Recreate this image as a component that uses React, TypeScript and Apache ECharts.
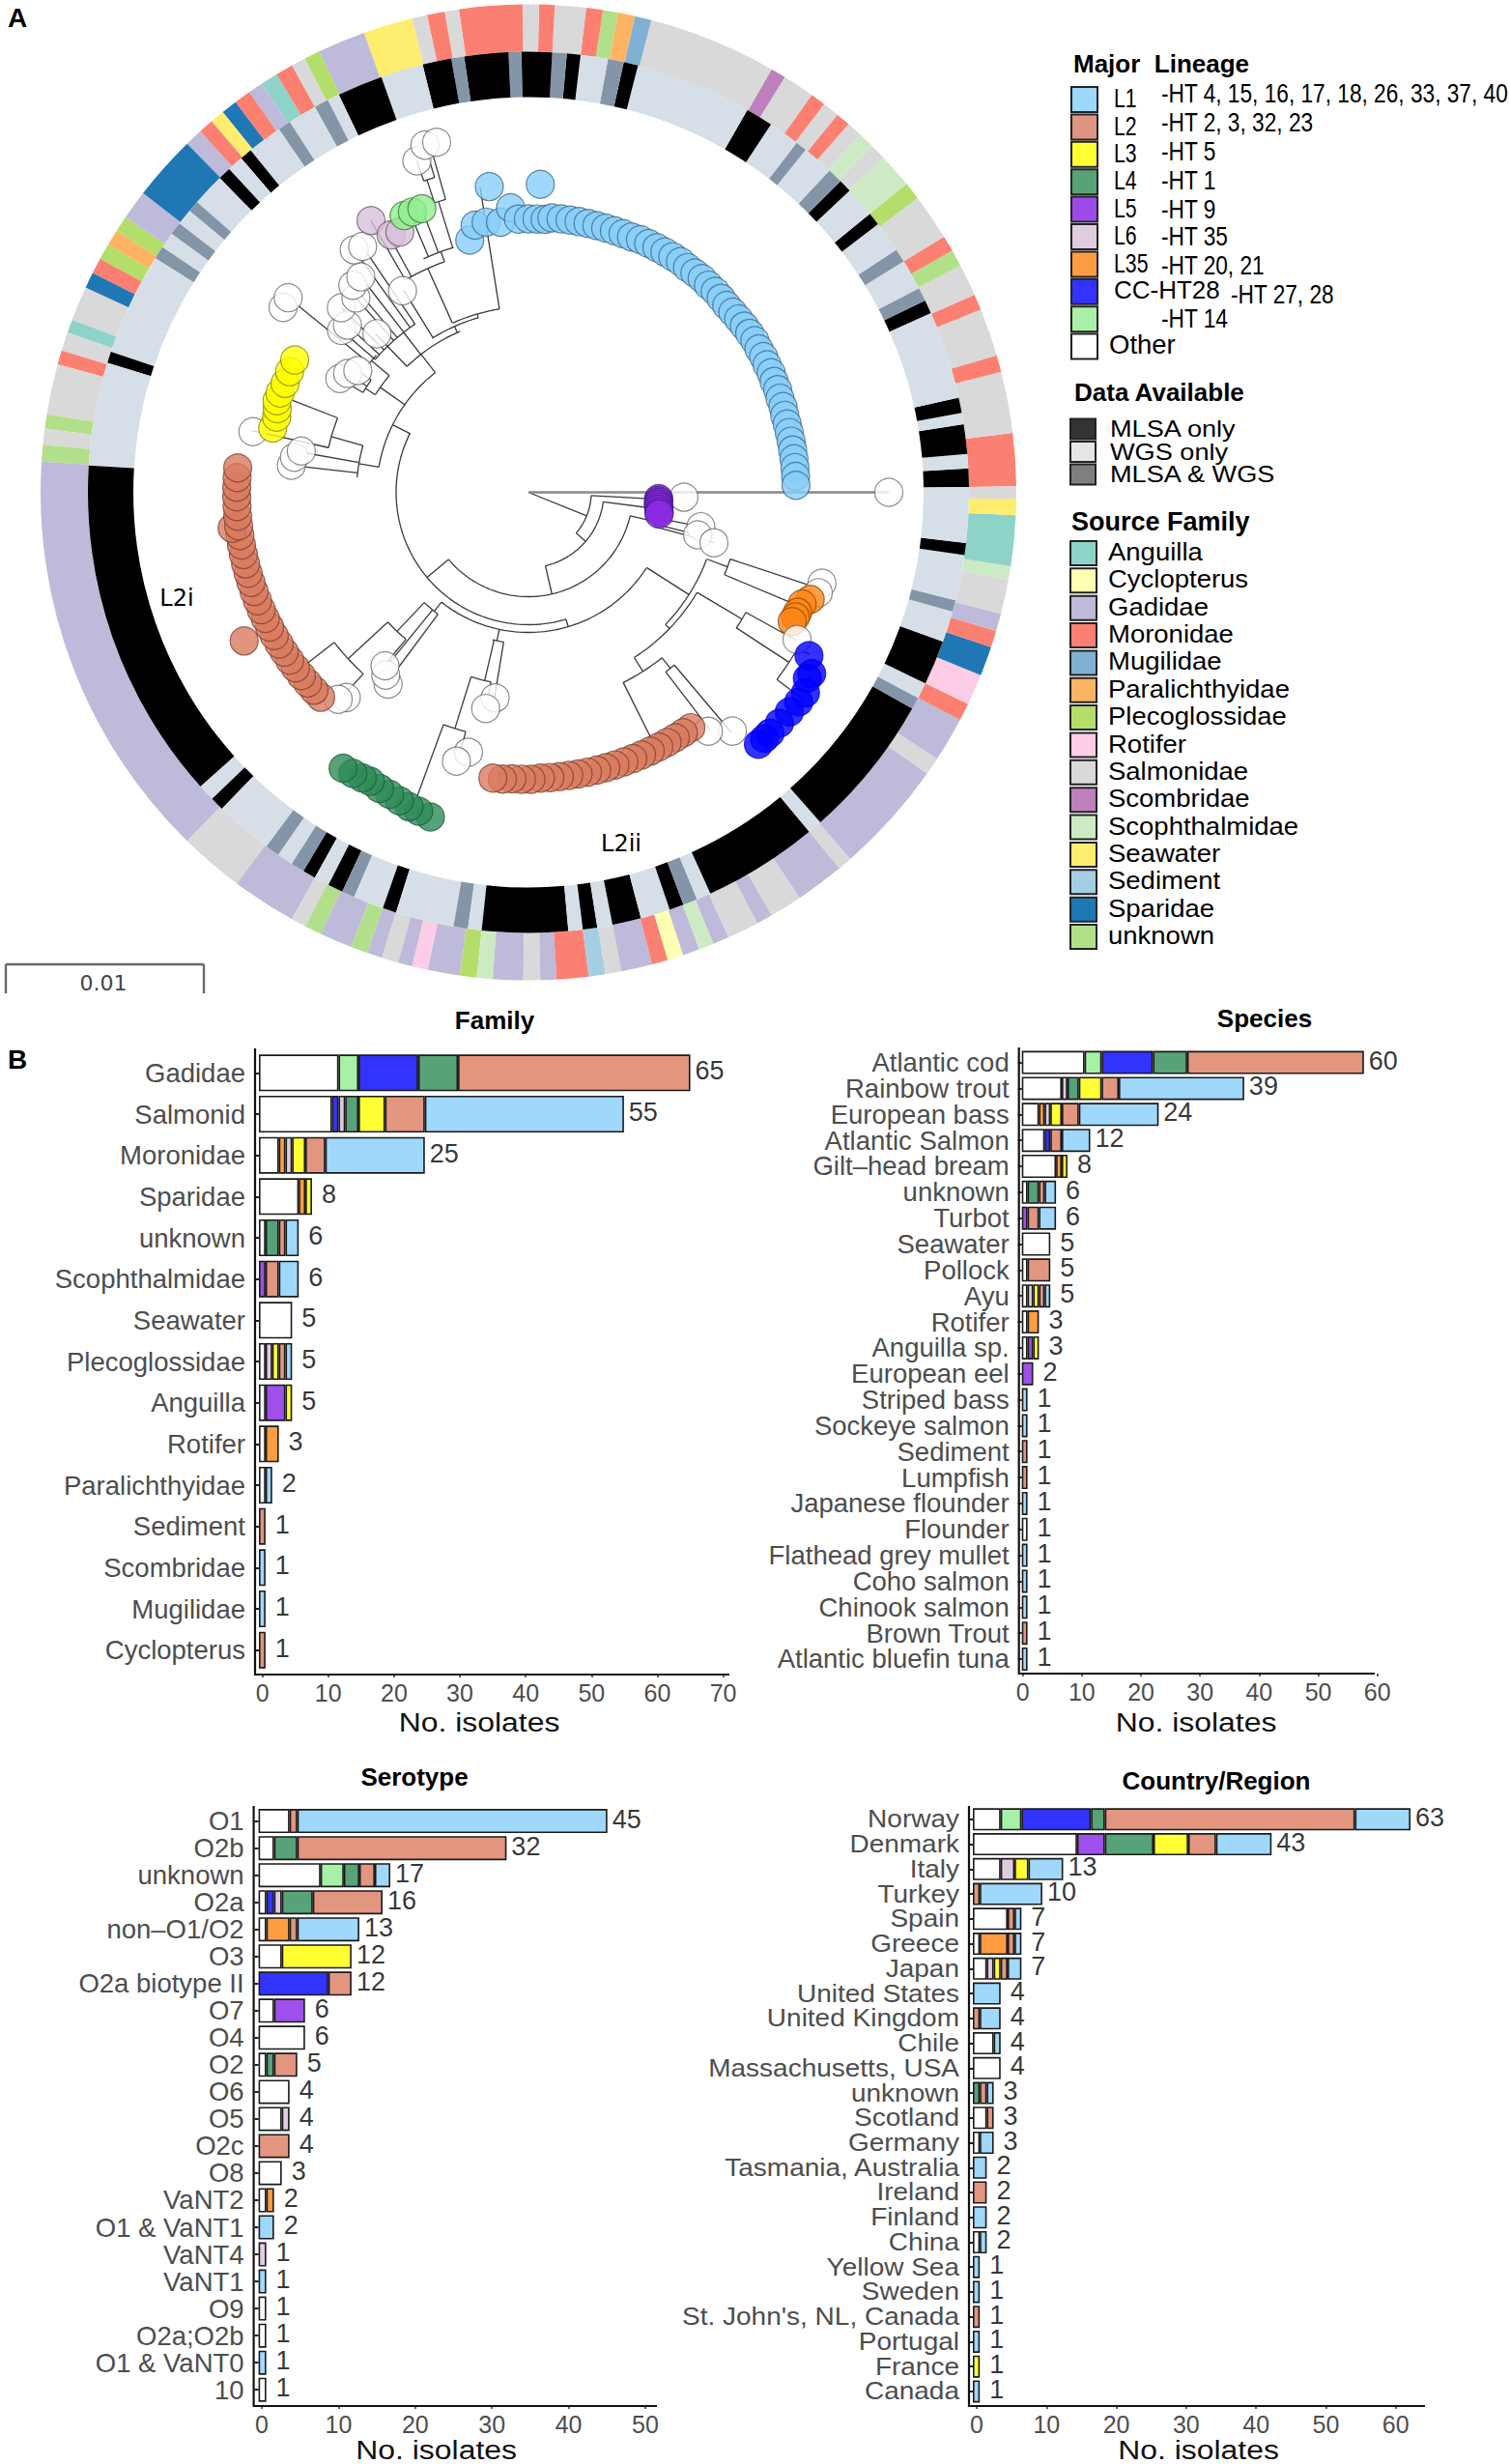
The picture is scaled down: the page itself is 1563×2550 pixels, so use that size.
import React, { useEffect, useRef } from "react";
import * as echarts from "echarts";

// ---------- lineages (stack order) ----------
const lineageNames = ["Other", "HT14", "CC-HT28", "L35", "L6", "L5", "L4", "L3", "L2", "L1"];
const barColors = ["#ffffff", "#a6f1a6", "#3333ff", "#ff9c42", "#e0cce0", "#9f50ea", "#58a279", "#ffff33", "#e29680", "#a0d8fc"];
const tipColors: Record<string, string> = {
  Other: "#ffffff", HT14: "#90ee90", CC: "#0000ff", L35: "#ff8515", L6: "#d8bfd8",
  L5: "#8a2be2", L4: "#2e8b57", L3: "#ffff00", L2: "#d97a5f", L1: "#87cefa",
};
const tipBorders: Record<string, string> = {
  Other: "#6e6e6e", HT14: "#3d7a3d", CC: "#0000e0", L35: "#8a4a00", L6: "#6e5a6e",
  L5: "#4b1a8a", L4: "#1b5e38", L3: "#8a8a00", L2: "#7a4030", L1: "#3d6a8a",
};

// ---------- bar panels: rows are [Other, HT14, CC-HT28, L35, L6, L5, L4, L3, L2, L1] ----------
const familyCategories = ["Gadidae", "Salmonid", "Moronidae", "Sparidae", "unknown", "Scophthalmidae", "Seawater", "Plecoglossidae", "Anguilla", "Rotifer", "Paralichthyidae", "Sediment", "Scombridae", "Mugilidae", "Cyclopterus"];
const familyRows = [
  [12, 3, 9, 0, 0, 0, 6, 0, 35, 0],
  [11, 0, 1, 0, 1, 0, 2, 4, 6, 30],
  [3, 0, 0, 1, 1, 0, 0, 2, 3, 15],
  [6, 0, 0, 1, 0, 0, 0, 1, 0, 0],
  [1, 0, 0, 0, 0, 0, 2, 0, 1, 2],
  [0, 0, 0, 0, 0, 1, 0, 0, 2, 3],
  [5, 0, 0, 0, 0, 0, 0, 0, 0, 0],
  [1, 0, 0, 0, 1, 0, 0, 1, 1, 1],
  [1, 0, 0, 0, 0, 3, 0, 1, 0, 0],
  [1, 0, 0, 2, 0, 0, 0, 0, 0, 0],
  [1, 0, 0, 0, 0, 0, 0, 0, 0, 1],
  [0, 0, 0, 0, 0, 0, 0, 0, 1, 0],
  [0, 0, 0, 0, 0, 0, 0, 0, 0, 1],
  [0, 0, 0, 0, 0, 0, 0, 0, 0, 1],
  [0, 0, 0, 0, 0, 0, 0, 0, 1, 0],
];
const speciesCategories = ["Atlantic cod", "Rainbow trout", "European bass", "Atlantic Salmon", "Gilt–head bream", "unknown", "Turbot", "Seawater", "Pollock", "Ayu", "Rotifer", "Anguilla sp.", "European eel", "Striped bass", "Sockeye salmon", "Sediment", "Lumpfish", "Japanese flounder", "Flounder", "Flathead grey mullet", "Coho salmon", "Chinook salmon", "Brown Trout", "Atlantic bluefin tuna"];
const speciesRows = [
  [11, 3, 9, 0, 0, 0, 6, 0, 31, 0],
  [7, 0, 0, 0, 1, 0, 2, 4, 3, 22],
  [3, 0, 0, 1, 1, 0, 0, 2, 3, 14],
  [4, 0, 1, 0, 0, 0, 0, 0, 2, 5],
  [6, 0, 0, 1, 0, 0, 0, 1, 0, 0],
  [1, 0, 0, 0, 0, 0, 2, 0, 1, 2],
  [0, 0, 0, 0, 0, 1, 0, 0, 2, 3],
  [5, 0, 0, 0, 0, 0, 0, 0, 0, 0],
  [1, 0, 0, 0, 0, 0, 0, 0, 4, 0],
  [1, 0, 0, 0, 1, 0, 0, 1, 1, 1],
  [1, 0, 0, 2, 0, 0, 0, 0, 0, 0],
  [1, 0, 0, 0, 0, 1, 0, 1, 0, 0],
  [0, 0, 0, 0, 0, 2, 0, 0, 0, 0],
  [0, 0, 0, 0, 0, 0, 0, 0, 0, 1],
  [0, 0, 0, 0, 0, 0, 0, 0, 0, 1],
  [0, 0, 0, 0, 0, 0, 0, 0, 1, 0],
  [0, 0, 0, 0, 0, 0, 0, 0, 1, 0],
  [0, 0, 0, 0, 0, 0, 0, 0, 0, 1],
  [1, 0, 0, 0, 0, 0, 0, 0, 0, 0],
  [0, 0, 0, 0, 0, 0, 0, 0, 0, 1],
  [0, 0, 0, 0, 0, 0, 0, 0, 0, 1],
  [0, 0, 0, 0, 0, 0, 0, 0, 0, 1],
  [0, 0, 0, 0, 0, 0, 0, 0, 1, 0],
  [0, 0, 0, 0, 0, 0, 0, 0, 0, 1],
];
const serotypeCategories = ["O1", "O2b", "unknown", "O2a", "non–O1/O2", "O3", "O2a biotype II", "O7", "O4", "O2", "O6", "O5", "O2c", "O8", "VaNT2", "O1 & VaNT1", "VaNT4", "VaNT1", "O9", "O2a;O2b", "O1 & VaNT0", "10"];
const serotypeRows = [
  [4, 0, 0, 0, 0, 0, 0, 0, 1, 40],
  [2, 0, 0, 0, 0, 0, 3, 0, 27, 0],
  [8, 3, 0, 0, 0, 0, 2, 0, 2, 2],
  [1, 0, 1, 0, 1, 0, 4, 0, 9, 0],
  [1, 0, 0, 3, 0, 0, 0, 0, 1, 8],
  [3, 0, 0, 0, 0, 0, 0, 9, 0, 0],
  [0, 0, 9, 0, 0, 0, 0, 0, 3, 0],
  [2, 0, 0, 0, 0, 4, 0, 0, 0, 0],
  [6, 0, 0, 0, 0, 0, 0, 0, 0, 0],
  [1, 0, 0, 0, 0, 0, 1, 0, 3, 0],
  [4, 0, 0, 0, 0, 0, 0, 0, 0, 0],
  [3, 0, 0, 0, 1, 0, 0, 0, 0, 0],
  [0, 0, 0, 0, 0, 0, 0, 0, 4, 0],
  [3, 0, 0, 0, 0, 0, 0, 0, 0, 0],
  [1, 0, 0, 1, 0, 0, 0, 0, 0, 0],
  [0, 0, 0, 0, 0, 0, 0, 0, 0, 2],
  [0, 0, 0, 0, 1, 0, 0, 0, 0, 0],
  [0, 0, 0, 0, 0, 0, 0, 0, 0, 1],
  [1, 0, 0, 0, 0, 0, 0, 0, 0, 0],
  [1, 0, 0, 0, 0, 0, 0, 0, 0, 0],
  [0, 0, 0, 0, 0, 0, 0, 0, 0, 1],
  [1, 0, 0, 0, 0, 0, 0, 0, 0, 0],
];
const countryCategories = ["Norway", "Denmark", "Italy", "Turkey", "Spain", "Greece", "Japan", "United States", "United Kingdom", "Chile", "Massachusetts, USA", "unknown", "Scotland", "Germany", "Tasmania, Australia", "Ireland", "Finland", "China", "Yellow Sea", "Sweden", "St. John's, NL, Canada", "Portugal", "France", "Canada"];
const countryRows = [
  [4, 3, 10, 0, 0, 0, 2, 0, 36, 8],
  [15, 0, 0, 0, 0, 4, 7, 5, 4, 8],
  [4, 0, 0, 0, 2, 0, 0, 2, 0, 5],
  [0, 0, 0, 0, 0, 0, 0, 0, 1, 9],
  [5, 0, 0, 0, 0, 0, 0, 0, 1, 1],
  [1, 0, 0, 4, 0, 0, 0, 0, 1, 1],
  [2, 0, 0, 0, 1, 0, 0, 1, 1, 2],
  [0, 0, 0, 0, 0, 0, 0, 0, 0, 4],
  [0, 0, 0, 0, 0, 0, 0, 0, 1, 3],
  [3, 0, 0, 0, 0, 0, 0, 0, 0, 1],
  [4, 0, 0, 0, 0, 0, 0, 0, 0, 0],
  [0, 0, 0, 0, 0, 0, 1, 0, 1, 1],
  [2, 0, 0, 0, 0, 0, 0, 0, 1, 0],
  [1, 0, 0, 0, 0, 0, 0, 0, 0, 2],
  [0, 0, 0, 0, 0, 0, 0, 0, 0, 2],
  [0, 0, 0, 0, 0, 0, 0, 0, 2, 0],
  [0, 0, 0, 0, 0, 0, 0, 0, 0, 2],
  [1, 0, 0, 0, 0, 0, 0, 0, 0, 1],
  [0, 0, 0, 0, 0, 0, 0, 0, 0, 1],
  [0, 0, 0, 0, 0, 0, 0, 0, 0, 1],
  [0, 0, 0, 0, 0, 0, 0, 0, 1, 0],
  [0, 0, 0, 0, 0, 0, 0, 0, 0, 1],
  [0, 0, 0, 0, 0, 0, 0, 1, 0, 0],
  [0, 0, 0, 0, 0, 0, 0, 0, 0, 1],
];

// ---------- circular ring: consecutive segments and the angle (deg, counter-clockwise from east) where each ends ----------
const ringStart = 0.7;
const sourceSegments = ["Mor","Sal","Mor","Sal","Mor","Sal","Unk","Mor","Sal","Ple","Sco","Sal","Sco","Sal","Mor","Sal","Mor","Sal","Scm","Sal","Mug","Par","Unk","Mor","Sal","Mor","Sal","Mor","Sal","Mor","Sal","Sea","Gad","Ple","Sal","Mor","Ang","Gad","Mor","Spa","Sea","Mor","Gad","Spa","Gad","Ple","Par","Ple","Mor","Spa","Sal","Ang","Sal","Mor","Sal","Unk","Sal","Unk","Gad","Sal","Gad","Sal","Unk","Gad","Unk","Gad","Sal","Gad","Rot","Gad","Ple","Sco","Gad","Sal","Gad","Mor","Sed","Sal","Gad","Mor","Cyc","Gad","Sco","Gad","Sal","Gad","Sal","Gad","Sal","Gad","Sal","Gad","Mor","Rot","Spa","Mor","Gad","Sal","Sco","Ang","Sea","Sal"];
const sourceEnds = [7,14.3,16.3,22,23.9,27.7,29.7,31.6,37.1,39.2,43.3,45.2,47.1,49,50.7,52.7,54.5,58.3,60.1,75.4,77.4,79.4,81.2,83.2,86.9,88.75,90.7,98.2,99.9,102,103.8,109.7,115.4,117.3,119,121.1,123.1,124.9,126.9,128.8,130.5,132.3,134.4,142.2,145.7,147.6,149.5,151.4,153.3,155.2,159.3,160.9,163.1,164.8,170.8,172.5,174.4,176.4,225.6,233.3,241,242.8,244.8,248.7,250.7,252.5,254.5,256.2,258.1,261.9,263.9,265.8,269.4,271.4,273.3,277.1,279.1,281,284.7,286.6,288.5,290.5,292.3,294.2,298,299.9,303.8,309.6,311.3,324.8,326.9,332.2,334.3,338,341.5,343.5,345.6,349.7,351.3,357.3,359.2,360.7];
// M = MLSA only, W = WGS only, B = MLSA & WGS
const dataSegments: [string, number][] = [["M",3.1],["W",5],["M",8.9],["W",10.4],["M",12.4],["W",24],["M",25.8],["B",27.6],["W",31.6],["B",33.4],["W",37.5],["M",39.2],["W",43.2],["M",44.9],["B",46.9],["W",51],["B",52.5],["W",56.6],["M",60.2],["W",75.6],["M",77.5],["B",79.6],["W",83.2],["M",85],["B",86.9],["M",90.9],["B",92.6],["M",98.4],["B",100.1],["M",103.9],["W",109.5],["M",115.5],["W",117.1],["B",119],["W",122.8],["B",124.5],["W",129.1],["M",130.7],["W",132.8],["M",134.5],["W",138.8],["B",140.3],["W",142.4],["B",144.1],["W",146.2],["B",147.9],["W",161.4],["M",162.9],["W",176.5],["M",221.9],["W",224.1],["M",225.9],["W",233.5],["B",235.4],["W",237.5],["B",239.3],["M",241],["W",243],["M",245],["B",246.7],["W",250.7],["M",252.5],["W",260.2],["B",262.1],["W",263.9],["M",275.2],["W",277.1],["M",279],["W",281],["M",284.8],["W",288.7],["M",290.6],["B",292.5],["W",294.4],["M",309.6],["W",311.5],["M",330.6],["B",332.2],["W",334.3],["M",340.2],["W",344.3],["B",345.8],["W",351.8],["M",353.4],["W",360.7]];

const sourceNames = ["Anguilla", "Cyclopterus", "Gadidae", "Moronidae", "Mugilidae", "Paralichthyidae", "Plecoglossidae", "Rotifer", "Salmonidae", "Scombridae", "Scophthalmidae", "Seawater", "Sediment", "Sparidae", "unknown"];
const sourceKeys = ["Ang", "Cyc", "Gad", "Mor", "Mug", "Par", "Ple", "Rot", "Sal", "Scm", "Sco", "Sea", "Sed", "Spa", "Unk"];
const sourceColors = ["#8dd3c7", "#ffffb3", "#bebada", "#fb8072", "#80b1d3", "#fdb462", "#b3de69", "#fccde5", "#d9d9d9", "#bc80bd", "#ccebc5", "#ffed6f", "#a6cee3", "#1f78b4", "#b2df8a"];
const dataColors: Record<string, string> = { M: "#000000", W: "#d6dfe7", B: "#8595a8" };

// ---------- tree tips: [radius, angle] ----------
const l1Tips = [[277,1.5],[277,3.4],[277,5.3],[277,7.2],[277,9.1],[277,11],[277,12.9],[277,14.8],[277,16.7],[278,18.6],[278,20.5],[279,22.4],[279,24.3],[280,26.2],[280,28.1],[281,30],[281,31.9],[282,33.8],[282,35.7],[282,37.6],[282,39.5],[282,41.4],[282,43.3],[283,45.2],[284,47.1],[284,49],[285,50.9],[285,52.8],[285,54.7],[286,56.6],[286,58.5],[286,60.4],[286,62.3],[286,64.2],[286,66.1],[285,68],[285,69.9],[285,71.8],[285,73.7],[285,75.6],[285,77.5],[285,79.4],[285,81.3],[285,83.2],[285,85.1],[283,86.5],[319,87.8],[283,88.2],[283,90],[283,92.1],[295,93.6],[281,95.9],[319,97.3],[283,98.9],[282,101.3],[268,103.1]];
const l3Tips = [[278,150.5],[277,153.2],[276,155.9],[277,158.2],[277,160],[274,161.6],[272,163.4],[273,165.9]];
const l2Tips = [[302,175.2],[302,177.1],[302,179],[302,180.9],[302,182.8],[302,184.7],[309,186.9],[302,186.6],[302,188.5],[302,190.4],[302,192.3],[302,194.2],[302,196.1],[302,198],[302,199.9],[302,201.8],[302,203.7],[302,205.6],[332,207.6],[302,207.5],[302,209.4],[302,211.3],[302,213.2],[302,215.1],[302,217],[302,218.9],[302,220.8],[302,222.7],[302,224.6],[298,262.9],[298,264.8],[297,266.7],[297,268.6],[297,270.5],[296,272.4],[296,274.3],[296,276.2],[296,278.1],[296,280],[296,281.9],[296,283.8],[296,285.7],[296,287.6],[296,289.5],[296,291.4],[296,293.3],[296,295.2],[296,297.1],[296,299],[296,300.9],[296,302.8],[296,304.6]];
const l4Tips = [[344,236.1],[343,238],[342,239.8],[341,241.3],[343,243.3],[344,245.3],[346,247.3],[348,249.2],[349,251],[351,253.2]];
const ccTips = [[353,312.4],[353,313.8],[353,315.1],[353,317.4],[353,319.9],[354,322.2],[354,324.1],[347,326.3],[348,327.4],[336,329.8]];
const l35Tips = [[304,333.9],[305,335],[305,336],[306,337.8],[312,339.2]];
const l5Tips = [[135,357.2],[135,356.4],[135,355.5],[135,354.6],[136,353.6],[136,352.6],[137,351.6],[137,350.6]];
const l6Tips = [[325,120.1],[300.5,116.3],[302,118.1]];
const ht14Tips = [[313.6,110.6],[314,112.5],[314,114.2]];
const otherTips = [[373,0],[161,358.2],[182,348.7],[180.5,345.9],[199,344.8],[317,331.3],[317.5,340.9],[318,342.8],[309.5,307],[325,310.5],[215.6,260.8],[228,258.8],[276,257],[288,255],[233,230.4],[246,233.8],[240,232],[284,228.4],[291,227.4],[239,169.7],[245,171.5],[247,173.5],[292,167.6],[217,144.5],[224,146.7],[228,148.9],[320,141],[318,143],[227,133.7],[246,122],[307,124],[309,125.7],[282.5,127.9],[281,130.3],[269,131.6],[272,135.4],[255,137.3],[256,139.1],[374.5,104.7],[375,106.6],[362,108.6]];

// ---------- tree branches ----------
const treeArcs = [[65,319.5,357],[78,283,352.7],[108,220,347],[137,153.4,286.5],[145,231.6,327.2],[157,127.8,170.4],[178,164.2,175],[212,158.7,167.4],[181,113,134],[188,106,122],[192,99,114],[254,110,120.1],[265,107,114.2],[315,105.8,108],[340,106.6,108.6],[197,316,339.3],[203,302.6,329.3],[220,337.2,341.7],[257,326.8,331.1],[322,323,330],[220,296.4,308.9],[234,307.4,310.2],[157,226.6,233.4],[198,222.7,230.2],[254,217.7,227.7],[157,256.3,260.6],[200,252.7,258.8],[256,249.9,255.3],[188,140,147.5],[212,138,141.5],[210,124,139.1],[200,144.5,148.9],[135,344.8,348.7]];
const treeRadials = [[338,0,65],[357,65,135],[352.7,78,130],[319.5,65,78],[283,78,108],[347,108,135],[348.7,135,182],[345.9,135,180],[344.8,135,199],[220,108,137],[153.6,137,157],[286.5,137,145],[327.5,145,197],[170.4,157,178],[164.2,178,212],[158.7,212,262],[167.4,212,293],[170,178,239],[173.5,178,247],[127.9,157,181],[114,181,188],[106,188,192],[99,192,319],[114.2,192,254],[118.5,254,300],[120.1,254,325],[110,254,265],[113,265,314],[110.6,265,314],[107.2,265,315],[105.8,315,374],[108,315,340],[106.6,340,375],[108.6,340,362],[121.7,188,246],[134,181,228],[128,181,210],[124,210,307],[125.7,210,309],[127.9,210,282],[130.3,210,281],[131.6,210,269],[135.4,210,272],[137.3,210,255],[139.1,210,256],[144.7,157,188],[140,188,212],[141,212,320],[147.5,188,200],[144.5,200,217],[146.7,200,224],[148.9,200,228],[316,197,203],[339.5,197,220],[341.7,220,318],[337.2,220,305],[329.3,203,257],[331.1,257,317],[326.9,257,322],[330,322,336],[323,322,353],[302.6,203,220],[296.5,220,296],[308.9,220,234],[310.2,234,325],[307.4,234,309],[231.6,145,157],[233.4,157,246],[230.8,157,233],[226.6,157,198],[230.2,198,233],[222.7,198,254],[217.7,254,302],[227.7,254,285],[258,145,157],[260.6,157,215],[256.9,157,200],[258.8,200,228],[252.7,200,256],[255.3,256,288],[249.9,256,340]];
const rootBranch = [[0, 0], [373, 0]];

// ---------- legend text ----------
const lineageLegendLabels = ["L1", "L2", "L3", "L4", "L5", "L6", "L35", "CC-HT28", "", "Other"];
const lineageLegendHT = ["-HT 4, 15, 16, 17, 18, 26, 33, 37, 40", "-HT 2, 3, 32, 23", "-HT 5", "-HT 1", "-HT 9", "-HT 35", "-HT 20, 21", "-HT 27, 28", "-HT 14", ""];
const lineageLegendColors = ["#9ed8f9", "#e09582", "#ffff33", "#58a278", "#9e4ae8", "#e0ccdf", "#ff9c42", "#3333ff", "#a8f0a8", "#ffffff"];
const dataLegendLabels = ["MLSA only", "WGS only", "MLSA & WGS"];
const dataLegendColors = ["#333333", "#e5e5e5", "#7f7f7f"];

const SANS = "Liberation Sans";
const CX = 547;
const CY = 509.5;

const panels = [
  { title: "Family", titleX: 512, titleY: 1056, cats: familyCategories, rows: familyRows, axisX: 264, x0: 268, x1: 748.9, max: 70, top: 1089, h: 640, barW: 38, axisTop: 1085, axisY: 1733, axisEnd: 755, labelX0: 271.6, labelX1: 748.6, labelMax: 70, nameX: 496, nameY: 1782, stretchedLabels: false },
  { title: "Species", titleX: 1309, titleY: 1054, cats: speciesCategories, rows: speciesRows, axisX: 1054.7, x0: 1057.7, x1: 1411.8, max: 60, top: 1086.2, h: 644.2, barW: 24, axisTop: 1084, axisY: 1732, axisEnd: 1423, labelX0: 1058.7, labelX1: 1425.7, labelMax: 60, nameX: 1238, nameY: 1782, stretchedLabels: false },
  { title: "Serotype", titleX: 429, titleY: 1839, cats: serotypeCategories, rows: serotypeRows, axisX: 262.6, x0: 267.6, x1: 668.8, max: 50, top: 1870.6, h: 616.6, barW: 25, axisTop: 1869, axisY: 2490, axisEnd: 680, labelX0: 271, labelX1: 668, labelMax: 50, nameX: 451.6, nameY: 2535, stretchedLabels: false },
  { title: "Country/Region", titleX: 1259, titleY: 1843, cats: countryCategories, rows: countryRows, axisX: 1003, x0: 1007, x1: 1474.4, max: 65, top: 1870, h: 617.8, barW: 23, axisTop: 1869, axisY: 2490, axisEnd: 1475, labelX0: 1011, labelX1: 1444.7, labelMax: 60, nameX: 1240.5, nameY: 2535, stretchedLabels: true },
];

function txt(x: number, y: number, text: string, size: number, extra: any = {}, scaleX = 1) {
  return {
    type: "text", x, y, scaleX, silent: true, z: 20,
    style: { text, fontFamily: SANS, fontSize: size, fill: "#000", textAlign: "left", textVerticalAlign: "middle", ...extra },
  };
}
function box(x: number, yc: number, w: number, h: number, fill: string) {
  return { type: "rect", silent: true, z: 20, shape: { x, y: yc - h / 2, width: w, height: h }, style: { fill, stroke: "#222", lineWidth: 2 } };
}
function line(x1: number, y1: number, x2: number, y2: number, stroke: string, lineWidth: number) {
  return { type: "line", silent: true, z: 20, shape: { x1, y1, x2, y2 }, style: { stroke, lineWidth } };
}

function ringData(segments: [string, number][], colorOf: (k: string) => string) {
  let prev = ringStart;
  return segments.map(([k, end], i) => {
    const value = end - prev;
    prev = end;
    return { value, name: `${k}${i}`, itemStyle: { color: colorOf(k) } };
  });
}

function ringSeries(radius: number[], data: any[]) {
  return {
    type: "pie", center: [CX, CY], radius, startAngle: ringStart, clockwise: false, silent: true, z: 1,
    avoidLabelOverlap: false, label: { show: false }, labelLine: { show: false }, emphasis: { disabled: true },
    itemStyle: { borderWidth: 0 }, data,
  };
}

function buildOption() {
  const grid: any[] = [];
  const xAxis: any[] = [];
  const yAxis: any[] = [];
  const series: any[] = [];
  const gfx: any[] = [];

  panels.forEach((p, k) => {
    const gi = 2 * k;
    grid.push({ left: p.x0, width: p.x1 - p.x0, top: p.top, height: p.h });
    grid.push({ left: p.labelX0, width: p.labelX1 - p.labelX0, top: p.axisY - 1, height: 1 });
    xAxis.push({ gridIndex: gi, type: "value", min: 0, max: p.max, show: false });
    xAxis.push({
      gridIndex: gi + 1, type: "value", min: 0, max: p.labelMax, interval: 10, position: "bottom",
      axisLine: { show: false }, splitLine: { show: false },
      axisTick: { show: true, length: 3, lineStyle: { color: "#333", width: 1.5 } },
      axisLabel: { color: "#4d4d4d", fontFamily: SANS, fontSize: 25, margin: 6, showMinLabel: true, showMaxLabel: true },
    });
    yAxis.push({
      gridIndex: gi, type: "category", inverse: true, data: p.cats, offset: p.x0 - p.axisX,
      axisLine: { show: false }, splitLine: { show: false },
      axisTick: { show: true, length: 4, alignWithLabel: true, lineStyle: { color: "#222", width: 2 } },
      axisLabel: { show: !p.stretchedLabels, color: "#4d4d4d", fontFamily: SANS, fontSize: 27.5, interval: 0, margin: 10 },
    });
    yAxis.push({ gridIndex: gi + 1, type: "value", show: false, min: 0, max: 1 });

    if (p.stretchedLabels) {
      // this panel's rows are tighter than the text is tall, so its labels are set shorter and widened
      p.cats.forEach((c, i) => {
        const y = p.top + ((i + 0.5) * p.h) / p.cats.length;
        gfx.push(txt(p.axisX - 10, y, c, 25, { textAlign: "right", fill: "#4d4d4d" }, 1.12));
      });
    }

    lineageNames.forEach((name, li) => {
      series.push({
        type: "bar", name: `${p.title} ${name}`, stack: p.title, xAxisIndex: gi, yAxisIndex: gi, barWidth: p.barW, clip: false, silent: true,
        itemStyle: { color: barColors[li], borderColor: "#1a1a1a", borderWidth: 1.6 },
        data: p.rows.map((r) => (r[li] ? r[li] : null)),
      });
    });
    series.push({
      type: "scatter", xAxisIndex: gi, yAxisIndex: gi, symbolSize: 0, clip: false, silent: true, z: 5,
      label: { show: true, position: "right", color: "#000", fontFamily: SANS, fontSize: 27, offset: [0, -2], formatter: (v: any) => String(v.value[0]) },
      data: p.rows.map((r, i) => {
        const total = r.reduce((a, b) => a + b, 0);
        return { value: [total, p.cats[i]], label: { distance: total >= 10 ? 5 : 10 } };
      }),
    });

    gfx.push(line(p.axisX, p.axisTop, p.axisX, p.axisY + 1, "#111", 2.2));
    gfx.push(line(p.axisX, p.axisY, p.axisEnd, p.axisY, "#111", 2));
    gfx.push(txt(p.titleX, p.titleY, p.title, 26, { fontWeight: "bold", textAlign: "center" }));
    gfx.push(txt(p.nameX, p.nameY, "No. isolates", 28, { textAlign: "center", fill: "#111" }, 1.14));
  });

  // rings
  const sourcePairs = sourceSegments.map((k, i) => [k, sourceEnds[i]] as [string, number]);
  series.push(ringSeries([456, 505], ringData(sourcePairs, (k) => sourceColors[sourceKeys.indexOf(k)])));
  series.push(ringSeries([409, 456], ringData(dataSegments, (k) => dataColors[k])));

  // tree branches as rows [r1, a1, r2, a2]
  const branchRows = [
    ...treeArcs.map(([r, a1, a2]) => [r, a1, r, a2]),
    ...treeRadials.map(([a, r1, r2]) => [r1, a, r2, a]),
  ];
  series.push({
    type: "custom", coordinateSystem: "polar", polarIndex: 0, silent: true, z: 2, clip: false,
    encode: { radius: [0, 2], angle: [1, 3] },
    data: branchRows,
    renderItem: (_: any, api: any) => {
      const r1 = api.value(0), a1 = api.value(1), r2 = api.value(2), a2 = api.value(3);
      const pts: number[][] = [];
      if (r1 === r2) {
        for (let a = a1; a < a2; a += 1.5) pts.push(api.coord([r1, a]));
        pts.push(api.coord([r1, a2]));
      } else {
        pts.push(api.coord([r1, a1]), api.coord([r2, a2]));
      }
      return { type: "polyline", shape: { points: pts }, style: { stroke: "#3a3a3a", lineWidth: 1.3, fill: null } };
    },
  });
  series.push({
    type: "line", coordinateSystem: "polar", polarIndex: 0, silent: true, z: 2, showSymbol: false, symbol: "none",
    lineStyle: { color: "#888", width: 2.5 }, data: rootBranch,
  });

  // tree tips: lowest angle is painted last
  const clades: [number[][], string][] = [
    [l1Tips, "L1"], [l2Tips, "L2"], [l3Tips, "L3"], [l4Tips, "L4"], [l5Tips, "L5"], [l6Tips, "L6"],
    [l35Tips, "L35"], [ccTips, "CC"], [ht14Tips, "HT14"], [otherTips, "Other"],
  ];
  const tips = clades
    .flatMap(([list, key]) => list.map((t) => ({
      value: t,
      itemStyle: { color: tipColors[key], borderColor: tipBorders[key], borderWidth: 1.2 },
    })))
    .sort((a, b) => b.value[1] - a.value[1]);
  series.push({
    type: "scatter", coordinateSystem: "polar", polarIndex: 0, symbol: "circle", symbolSize: 29, silent: true, z: 3, clip: false,
    data: tips,
  });

  // panel letters and tree annotations
  gfx.push(txt(18, 18, "A", 28, { fontWeight: "bold", textAlign: "center" }));
  gfx.push(txt(18, 1096, "B", 28, { fontWeight: "bold", textAlign: "center" }));
  gfx.push(txt(183, 619, "L2i", 24, { fontFamily: "DejaVu Sans", textAlign: "center" }));
  gfx.push(txt(643, 873, "L2ii", 24, { fontFamily: "DejaVu Sans", textAlign: "center" }));

  // scale bar
  gfx.push(line(6, 998, 211, 998, "#6a6a6a", 2.4));
  gfx.push(line(6, 998, 6, 1028, "#6a6a6a", 2.4));
  gfx.push(line(211, 998, 211, 1028, "#6a6a6a", 2.4));
  gfx.push(txt(107, 1017, "0.01", 22, { fontFamily: "DejaVu Sans", textAlign: "center", fill: "#444" }));

  // lineage legend
  gfx.push(txt(1111, 66, "Major  Lineage", 26, { fontWeight: "bold" }));
  const htYs = [96, 126, 156, 186, 216, 244, 274, 304, 329];
  lineageLegendColors.forEach((c, i) => {
    const y = 103 + i * 28.4;
    gfx.push(box(1109, y, 27, 26, c));
    const label = lineageLegendLabels[i];
    if (label) {
      const short = label.length <= 3;
      gfx.push(txt(i === 9 ? 1148 : 1153, y - 2, label, short ? 28 : i === 9 ? 27.5 : 26, {}, short ? 0.76 : 1));
    }
    if (lineageLegendHT[i]) gfx.push(txt(i === 7 ? 1274 : 1202, htYs[i], lineageLegendHT[i], 27, {}, 0.84));
  });

  // data legend
  gfx.push(txt(1112, 406, "Data Available", 26, { fontWeight: "bold" }));
  dataLegendColors.forEach((c, i) => {
    const y = 444 + i * 23.5;
    gfx.push(box(1108, y, 26, 21, c));
    gfx.push(txt(1149, y, dataLegendLabels[i], 23, {}, 1.18));
  });

  // source legend
  gfx.push(txt(1109, 540, "Source Family", 27, { fontWeight: "bold" }));
  sourceNames.forEach((n, i) => {
    const y = 572.4 + i * 28.37;
    gfx.push(box(1108, y, 27, 25, sourceColors[i]));
    gfx.push(txt(1147, y - 1, n, 25, {}, 1.1));
  });

  return {
    animation: false,
    backgroundColor: "#ffffff",
    polar: { center: [CX, CY], radius: 505 },
    angleAxis: { type: "value", min: 0, max: 360, startAngle: 0, clockwise: false, show: false },
    radiusAxis: { type: "value", min: 0, max: 505, show: false },
    grid, xAxis, yAxis, series,
    graphic: { elements: gfx },
  };
}

export default function App() {
  const ref = useRef<HTMLDivElement>(null);
  useEffect(() => {
    const chart = echarts.init(ref.current!, undefined, { renderer: "svg" });
    chart.setOption(buildOption() as any);
    return () => chart.dispose();
  }, []);
  return <div ref={ref} style={{ position: "absolute", left: 0, top: 0, width: 1563, height: 2550 }} />;
}
